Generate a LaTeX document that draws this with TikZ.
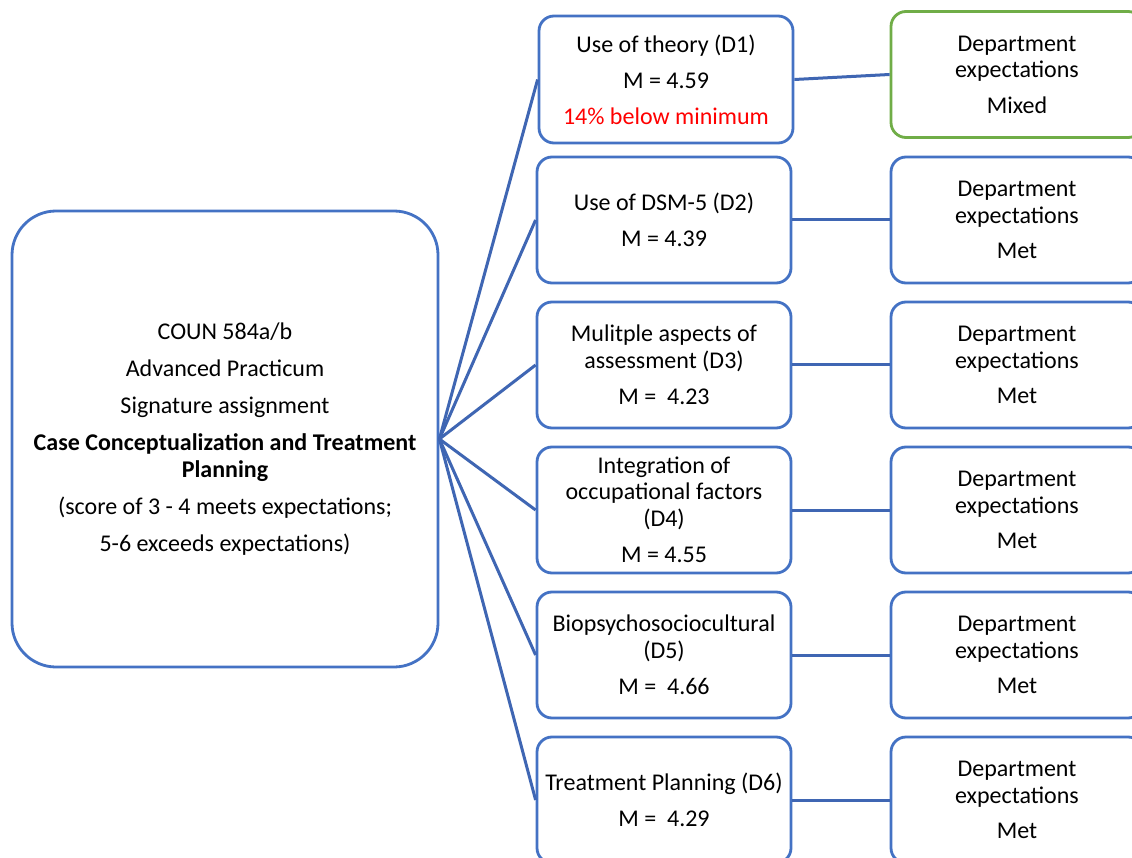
\documentclass[tikz,border=0pt]{standalone}
\usepackage{fontspec}
\setmainfont{Carlito}
\definecolor{boxblue}{HTML}{4472C4}
\definecolor{linkblue}{HTML}{3F66B3}
\definecolor{boxgreen}{HTML}{70AD47}
\definecolor{alertred}{HTML}{FF0000}
\tikzset{
  base/.style={draw=boxblue, line width=2.8pt, align=center, inner sep=0pt,
    font=\fontsize{24}{26.5}\selectfont},
  mainbox/.style={base, rounded corners=44pt, minimum width=426pt, minimum height=456pt},
  midbox/.style={base, rounded corners=15pt, minimum width=254pt, minimum height=126pt},
  resbox/.style={midbox, minimum width=252pt},
  link/.style={draw=linkblue, line width=3pt}
}
\begin{document}
\begin{tikzpicture}[x=1pt, y=-1pt]
  \clip (0,0) rectangle (1132,858);
  \fill[white] (0,0) rectangle (1132,858);

  % course / assignment box
  \node[mainbox] (main) at (225,439) {COUN 584a/b\\[10.5pt]
    Advanced Practicum\\[10.5pt]
    Signature assignment\\[10.5pt]
    \textbf{Case Conceptualization and Treatment}\\
    \textbf{Planning}\\[10.5pt]
    (score of 3 - 4 meets expectations;\\[10.5pt]
    5-6 exceeds expectations)};

  % dimension boxes
  \node[midbox, minimum height=127pt] (d1) at (666,79.5) {Use of theory (D1)\\[9.5pt]
    M = 4.59\\[9.5pt] \textcolor{alertred}{14\% below minimum}};
  \node[midbox] (d2) at (664,220) {Use of DSM-5 (D2)\\[10pt] M = 4.39};
  \node[midbox] (d3) at (664,365) {Mulitple aspects of\\ assessment (D3)\\[10pt] M =\ \ 4.23};
  \node[midbox] (d4) at (664,510) {Integration of\\ occupational factors\\ (D4)\\[10pt] M = 4.55};
  \node[midbox] (d5) at (664,655) {Biopsychosociocultural\\ (D5)\\[10pt] M =\ \ 4.66};
  \node[midbox] (d6) at (664,800) {Treatment Planning (D6)\\[10pt] M =\ \ 4.29};

  % department expectation boxes
  \node[resbox, draw=boxgreen] (r1) at (1017,74.5) {Department\\ expectations\\[9pt] Mixed};
  \node[resbox] (r2) at (1017,220) {Department\\ expectations\\[9pt] Met};
  \node[resbox] (r3) at (1017,365) {Department\\ expectations\\[9pt] Met};
  \node[resbox] (r4) at (1017,510) {Department\\ expectations\\[9pt] Met};
  \node[resbox] (r5) at (1017,655) {Department\\ expectations\\[9pt] Met};
  \node[resbox] (r6) at (1017,800) {Department\\ expectations\\[9pt] Met};

  % connectors
  \foreach \i in {1,...,6} {
    \draw[link] (main.east) -- (d\i.west);
    \draw[link] (d\i.east) -- (r\i.west);
  }
\end{tikzpicture}
\end{document}
